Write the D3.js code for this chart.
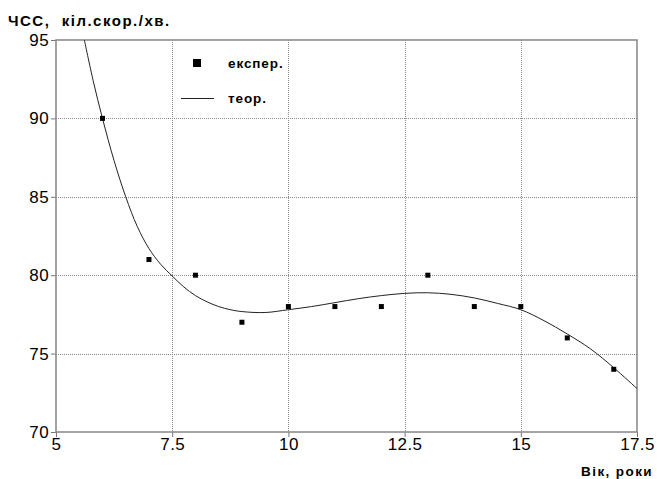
<!DOCTYPE html>
<html>
<head>
<meta charset="utf-8">
<script src="https://cdn.jsdelivr.net/npm/d3@7"></script>
<style>
  html, body { margin: 0; padding: 0; background: #fff; }
  svg { display: block; }
  text { font-family: "Liberation Sans", Arial, sans-serif; }
</style>
</head>
<body>
<svg id="chart" width="657" height="479"></svg>
<script>
// Experimental measurements: age (years) vs heart rate (beats/min)
const expAge = [6, 7, 8, 9, 10, 11, 12, 13, 14, 15, 16, 17];
const expHR  = [90, 81, 80, 77, 78, 78, 78, 80, 78, 78, 76, 74];

// Theoretical curve, sampled
const theoAge = [5.61, 5.8, 6, 6.25, 6.5, 6.75, 7, 7.25, 7.5, 7.75, 8, 8.25, 8.5, 8.75, 9, 9.5, 10, 10.5, 11, 11.5, 12, 12.5, 13, 13.5, 14, 14.5, 15, 15.5, 16, 16.5, 17, 17.5];
const theoHR  = [95, 92.4, 90, 87.3, 85, 83.1, 81.7, 80.7, 79.95, 79.25, 78.7, 78.3, 78.0, 77.8, 77.68, 77.62, 77.8, 78.0, 78.25, 78.5, 78.7, 78.84, 78.88, 78.78, 78.55, 78.2, 77.8, 77.1, 76.25, 75.3, 74.1, 72.77];

const xTicks = [5, 7.5, 10, 12.5, 15, 17.5];
const yTicks = [70, 75, 80, 85, 90, 95];

const yTitle = "ЧСС,  кіл.скор./хв.";
const xTitle = "Вік, роки";
const legendLabels = ["експер.", "теор."];

const svg = d3.select("#chart");
const L = 56, R = 637, T = 40, B = 432;

const x = d3.scaleLinear().domain([5, 17.5]).range([L, R]);
const y = d3.scaleLinear().domain([70, 95]).range([B, T]);

// Dotted grid
const grid = svg.append("g").attr("stroke", "#8a8a8a").attr("stroke-width", 1)
  .attr("stroke-dasharray", "1,1").attr("shape-rendering", "crispEdges");
grid.selectAll("line.v").data(xTicks.slice(1, -1)).join("line")
  .attr("x1", d => Math.round(x(d)) + 0.5).attr("x2", d => Math.round(x(d)) + 0.5)
  .attr("y1", T).attr("y2", B);
grid.selectAll("line.h").data(yTicks.slice(1, -1)).join("line")
  .attr("y1", d => Math.round(y(d)) + 0.5).attr("y2", d => Math.round(y(d)) + 0.5)
  .attr("x1", L).attr("x2", R);

// Axes
const yAxis = svg.append("g").attr("transform", `translate(${L},0)`)
  .call(d3.axisLeft(y).tickValues(yTicks).tickSize(5).tickPadding(2).tickFormat(d3.format("d")));
const xAxis = svg.append("g").attr("transform", `translate(0,${B})`)
  .call(d3.axisBottom(x).tickValues(xTicks).tickSize(5).tickPadding(1).tickFormat(d => String(d)));
[yAxis, xAxis].forEach(a => {
  a.select(".domain").remove();
  a.selectAll(".tick line").attr("stroke", "#777");
  a.selectAll(".tick text").attr("fill", "#000").attr("font-size", 17)
    .attr("letter-spacing", 0.4)
    .attr("font-family", "'Liberation Sans', Arial, sans-serif");
});

// Frame
svg.append("rect").attr("x", L).attr("y", T).attr("width", R - L).attr("height", B - T)
  .attr("fill", "none").attr("stroke", "#8c8c8c").attr("stroke-width", 1.6);

// Theoretical curve
const pts = theoAge.map((a, i) => [a, theoHR[i]]);
svg.append("path").datum(pts)
  .attr("fill", "none").attr("stroke", "#222").attr("stroke-width", 1)
  .attr("d", d3.line().x(d => x(d[0])).y(d => y(d[1])).curve(d3.curveCatmullRom));

// Experimental points
const ms = 5;
svg.append("g").selectAll("rect").data(expAge).join("rect")
  .attr("x", (d) => x(d) - ms / 2).attr("y", (d, i) => y(expHR[i]) - ms / 2)
  .attr("width", ms).attr("height", ms).attr("fill", "#000");

// Legend
svg.append("rect").attr("x", 193).attr("y", 59).attr("width", 8).attr("height", 8).attr("fill", "#000");
svg.append("text").attr("x", 228).attr("y", 68).attr("font-size", 13.5).attr("font-weight", "bold")
  .attr("letter-spacing", 0.9).text(legendLabels[0]);
svg.append("line").attr("x1", 181).attr("x2", 214).attr("y1", 98.5).attr("y2", 98.5)
  .attr("stroke", "#222").attr("stroke-width", 1);
svg.append("text").attr("x", 228).attr("y", 103).attr("font-size", 13.5).attr("font-weight", "bold")
  .attr("letter-spacing", 0.9).text(legendLabels[1]);

// Axis titles
svg.append("text").attr("x", 8).attr("y", 26).attr("font-size", 15).attr("font-weight", "bold")
  .attr("letter-spacing", 1.5)
  .attr("xml:space", "preserve").style("white-space", "pre").text(yTitle);
svg.append("text").attr("x", 653).attr("y", 476).attr("text-anchor", "end")
  .attr("font-size", 13.5).attr("font-weight", "bold").attr("letter-spacing", 1.4).text(xTitle);
</script>
</body>
</html>
